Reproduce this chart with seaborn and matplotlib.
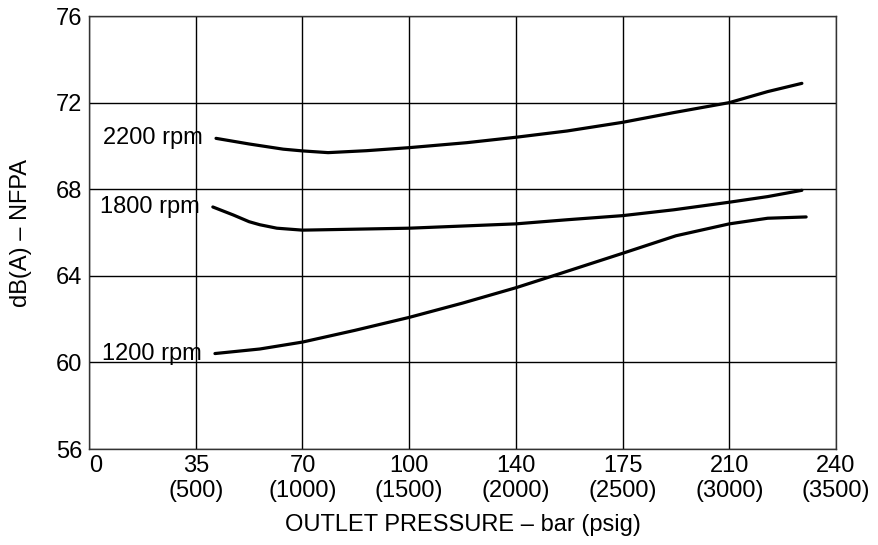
import matplotlib
matplotlib.use("Agg")
import matplotlib.pyplot as plt
import seaborn as sns
import pandas as pd

# noise curves (x in psig)
psi_2200 = [595, 750, 910, 1000, 1120, 1300, 1500, 1770, 2000, 2240, 2500, 2740, 3000, 3180, 3340]
db_2200 = [70.35, 70.09, 69.85, 69.77, 69.69, 69.78, 69.92, 70.15, 70.4, 70.69, 71.09, 71.54, 72.0, 72.51, 72.89]

psi_1800 = [580, 676, 750, 800, 880, 1000, 1500, 2000, 2240, 2500, 2740, 3000, 3180, 3340]
db_1800 = [67.18, 66.81, 66.5, 66.36, 66.2, 66.11, 66.2, 66.4, 66.59, 66.78, 67.05, 67.4, 67.66, 67.95]

psi_1200 = [590, 800, 1000, 1245, 1500, 1750, 2000, 2190, 2500, 2750, 3000, 3180, 3360]
db_1200 = [60.41, 60.62, 60.94, 61.48, 62.08, 62.74, 63.45, 64.05, 65.04, 65.85, 66.4, 66.66, 66.72]

speeds = ["2200 rpm", "1800 rpm", "1200 rpm"]

x_ticks = [0, 500, 1000, 1500, 2000, 2500, 3000, 3500]
x_labels = ["0", "35\n(500)", "70\n(1000)", "100\n(1500)", "140\n(2000)",
            "175\n(2500)", "210\n(3000)", "240\n(3500)"]
y_ticks = [56, 60, 64, 68, 72, 76]

sns.set_style("white")
plt.rcParams["font.family"] = ["Liberation Sans", "DejaVu Sans"]
plt.rcParams["text.color"] = "black"
plt.rcParams["axes.labelcolor"] = "black"
plt.rcParams["xtick.color"] = "black"
plt.rcParams["ytick.color"] = "black"

df = pd.concat([
    pd.DataFrame({"psi": psi_2200, "db": db_2200, "speed": speeds[0]}),
    pd.DataFrame({"psi": psi_1800, "db": db_1800, "speed": speeds[1]}),
    pd.DataFrame({"psi": psi_1200, "db": db_1200, "speed": speeds[2]}),
])

fig = plt.figure(figsize=(8.79, 5.45), dpi=100)
ax = fig.add_axes([0.1013, 0.1761, 0.8498, 0.7945])

ax.grid(True, color="black", linewidth=1.0)
ax.set_axisbelow(True)

sns.lineplot(data=df, x="psi", y="db", units="speed", estimator=None,
             color="black", linewidth=2.3, sort=False, ax=ax)

fs = 17
for name, xs, ys in zip(speeds, [psi_2200, psi_1800, psi_1200], [db_2200, db_1800, db_1200]):
    ax.text(xs[0] - 60, ys[0], name, ha="right", va="center", fontsize=fs)

ax.set_xlim(0, 3500)
ax.set_ylim(56, 76)
ax.set_xticks(x_ticks)
ax.set_xticklabels(x_labels, fontsize=fs)
ax.get_xticklabels()[0].set_horizontalalignment("left")
ax.set_yticks(y_ticks)
ax.set_yticklabels([str(v) for v in y_ticks], fontsize=fs)
ax.tick_params(length=0, pad=4)
ax.tick_params(axis="y", pad=5)

for s in ax.spines.values():
    s.set_color("#333333")
    s.set_linewidth(1.0)

ax.set_xlabel("OUTLET PRESSURE – bar (psig)", fontsize=fs, labelpad=9)
ax.set_ylabel("dB(A) – NFPA", fontsize=fs, labelpad=17)

fig.savefig("out.png", dpi=100)
